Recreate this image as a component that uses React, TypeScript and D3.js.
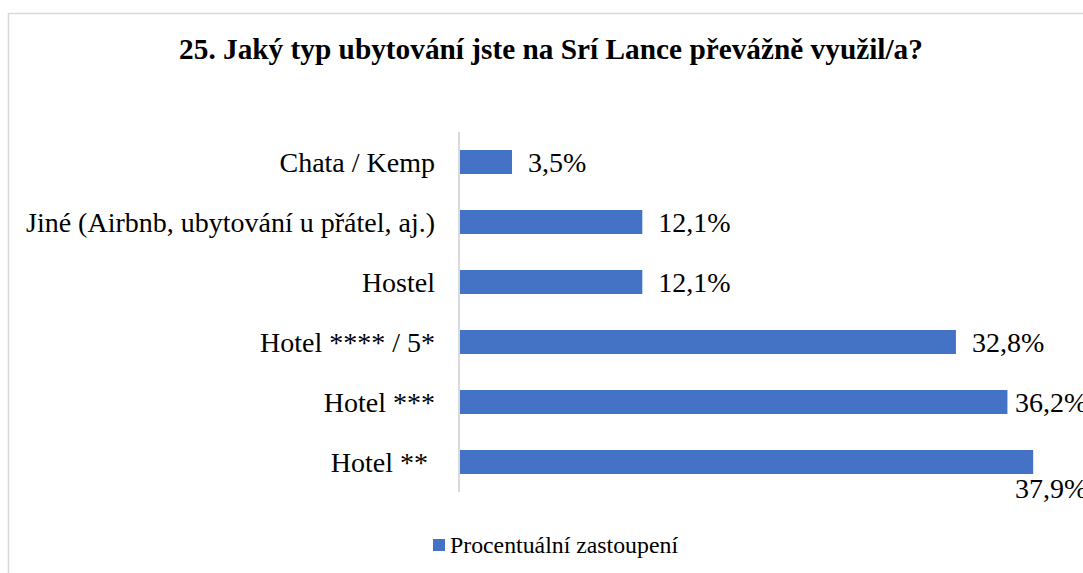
import React from "react"
import * as d3 from "d3"

// categories top to bottom, as shown
const categories = [
  "Chata / Kemp",
  "Jiné (Airbnb, ubytování u přátel, aj.)",
  "Hostel",
  "Hotel **** / 5*",
  "Hotel ***",
  "Hotel ** ",
]
const values = [3.5, 12.1, 12.1, 32.8, 36.2, 37.9]
const title = "25. Jaký typ ubytování jste na Srí Lance převážně využil/a?"
const seriesName = "Procentuální zastoupení"

const W = 1083
const H = 573
const font = "'Liberation Serif', 'Times New Roman', serif"
const barColor = "#4472c4"

export default function App() {
  const x = d3.scaleLinear().domain([0, 40]).range([459, 1065])
  const y = d3
    .scaleBand<string>()
    .domain(categories)
    .range([132, 492])
    .paddingInner(0.6)
    .paddingOuter(0.3)

  const fmt = (v: number) => v.toFixed(1).replace(".", ",") + "%"
  const maxLabelX = 1015

  return (
    <div style={{ position: "absolute", left: 0, top: 0 }}>
      <svg width={W} height={H} style={{ display: "block", fontFamily: font }}>
        <rect x={8.5} y={13.5} width={1200} height={700} fill="#fff" stroke="#d9d9d9" strokeWidth={1.5} />
        <text x={551} y={59} textAnchor="middle" fontSize={29.3} fontWeight="bold" fill="#000">
          {title}
        </text>

        {categories.map((c, i) => {
          const y0 = y(c)!
          const end = x(values[i])
          let lx = Math.min(end + 16, maxLabelX)
          let ly = y0 + y.bandwidth() / 2
          // label doesn't fit beside the bar -> Excel pushes it below
          if (lx < end) ly = y0 + y.bandwidth() + 14
          return (
            <g key={c}>
              <rect x={x(0)} y={y0} width={end - x(0)} height={y.bandwidth()} fill={barColor} />
              <text
                x={435}
                y={y0 + y.bandwidth() / 2}
                textAnchor="end"
                dominantBaseline="central"
                fontSize={28}
                fill="#000"
                style={{ whiteSpace: "pre" }}
              >
                {c}
              </text>
              <text x={lx} y={ly} dominantBaseline="central" fontSize={28} fill="#000">
                {fmt(values[i])}
              </text>
            </g>
          )
        })}

        <line x1={x(0)} x2={x(0)} y1={132} y2={492} stroke="#d9d9d9" strokeWidth={2} />

        <rect x={433} y={539} width={12} height={12} fill={barColor} />
        <text x={450} y={545} dominantBaseline="central" fontSize={23.8} fill="#000">
          {seriesName}
        </text>
      </svg>
    </div>
  )
}
